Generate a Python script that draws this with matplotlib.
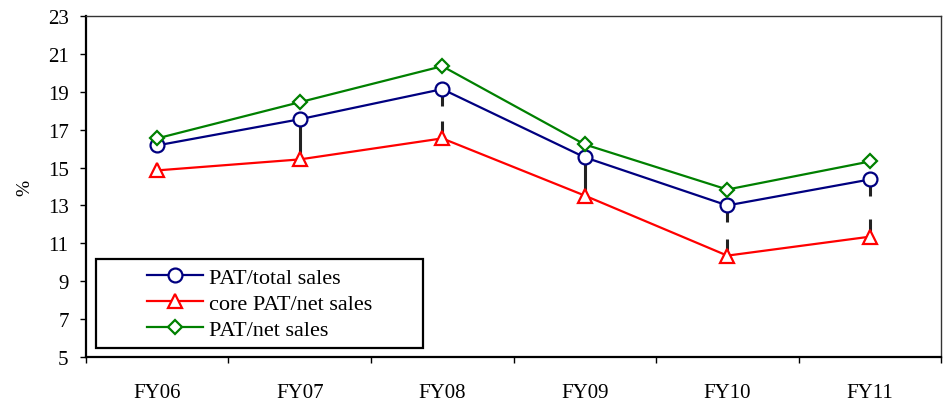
import numpy as np
import matplotlib
matplotlib.use('Agg')
from matplotlib import pyplot as plt
from matplotlib.patches import Rectangle

years = ['FY06', 'FY07', 'FY08', 'FY09', 'FY10', 'FY11']
pat_total = [16.17, 17.55, 19.14, 15.54, 13.0, 14.37]
core_pat_net = [14.85, 15.43, 16.54, 13.52, 10.35, 11.35]
pat_net = [16.54, 18.45, 20.35, 16.22, 13.84, 15.32]

# ends of the black high-low pieces (one hangs from the blue line, one rises from the red)
hl_upper_end = [np.nan, 15.43, 18.24, 13.52, 12.11, 13.49]
hl_lower_end = [np.nan, 15.43, 17.46, 13.52, 11.23, 12.31]

plt.rcParams['font.family'] = ['Liberation Serif', 'DejaVu Serif']

fig = plt.figure(figsize=(9.47, 4.02), dpi=100)
ax = fig.add_axes([0.0908, 0.1095, 0.9029, 0.8482])

x = np.arange(len(years))

# high-low segments, drawn first so the markers sit on top
ax.vlines(x, hl_upper_end, pat_total, color='#222222', lw=2.2, zorder=1)
ax.vlines(x, core_pat_net, hl_lower_end, color='#222222', lw=2.2, zorder=1)

ax.plot(x, pat_total, color='#000080', lw=1.6, marker='o', ms=10,
        mfc='white', mec='#000080', mew=1.6, label='PAT/total sales', zorder=3)
ax.plot(x, core_pat_net, color='#FF0000', lw=1.6, marker='^', ms=10,
        mfc='white', mec='#FF0000', mew=1.6, label='core PAT/net sales', zorder=3)
ax.plot(x, pat_net, color='#008000', lw=1.6, marker='D', ms=7.5,
        mfc='white', mec='#008000', mew=1.6, label='PAT/net sales', zorder=3)

ax.set_xlim(-0.5, len(years) - 0.5)
ax.set_ylim(5, 23)
ax.set_yticks(np.arange(5, 24, 2))

# category boundaries get the tick marks, names sit at the centres
ax.set_xticks(np.arange(-0.5, len(years), 1.0))
ax.set_xticklabels([])
ax.set_xticks(x, minor=True)
ax.set_xticklabels(years, minor=True)
ax.tick_params(axis='x', which='major', direction='out', length=4.5, width=1.0)
ax.tick_params(axis='x', which='minor', length=0, pad=19, labelsize=15)
ax.tick_params(axis='y', direction='out', length=4.5, width=1.0, pad=8, labelsize=15)

ax.set_ylabel('%', fontsize=14, labelpad=10)

for side in ['left', 'bottom']:
    ax.spines[side].set_linewidth(1.6)
    ax.spines[side].set_color('black')
for side in ['top', 'right']:
    ax.spines[side].set_linewidth(1.0)
    ax.spines[side].set_color('#333333')

# legend box
ax.add_patch(Rectangle((0.0117, 0.026), 0.383, 0.261, transform=ax.transAxes,
                       fill=False, ec='black', lw=1.6, zorder=4))
ax.legend(loc='center', bbox_to_anchor=(0.0117 + 0.383 / 2, 0.026 + 0.261 / 2),
          frameon=False, fontsize=16, handlelength=2.5, handletextpad=0.3,
          labelspacing=0.25, borderpad=0)

fig.savefig('out.png', dpi=100)
